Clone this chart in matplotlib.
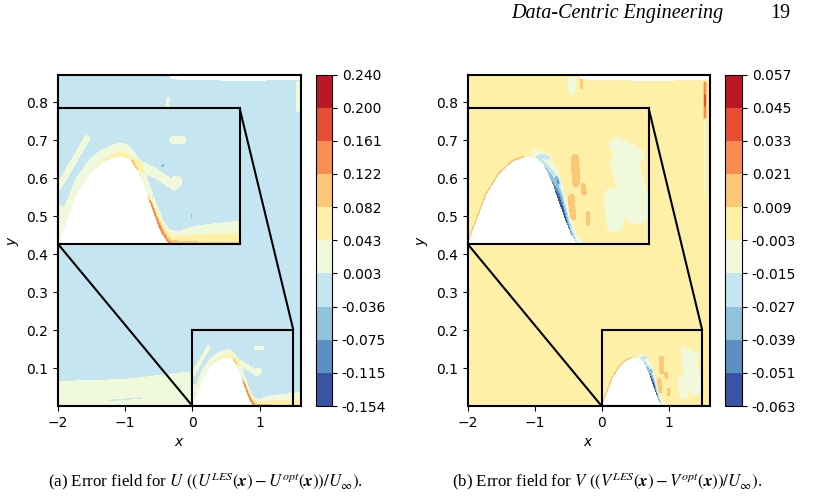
import numpy as np
import matplotlib.pyplot as plt
from mpl_toolkits.axes_grid1.inset_locator import mark_inset

# contour levels, as printed on the two colour bars
u_levels = [-0.154, -0.115, -0.075, -0.036, 0.003, 0.043, 0.082, 0.122, 0.161, 0.200, 0.240]
v_levels = [-0.063, -0.051, -0.039, -0.027, -0.015, -0.003, 0.009, 0.021, 0.033, 0.045, 0.057]

# hill profile (white, no data) and top edge of the data region
hill_x = [0.0, 0.04, 0.08, 0.15, 0.26, 0.37, 0.45, 0.52, 0.58, 0.62, 0.66, 0.70, 0.74, 0.78, 0.82, 0.86, 0.90, 0.93]
hill_y = [0.0, 0.020, 0.038, 0.072, 0.103, 0.121, 0.127, 0.129, 0.126, 0.119, 0.108, 0.092, 0.072, 0.052, 0.032, 0.015, 0.004, 0.0]
top_x = [-2.0, -0.45, -0.33, -0.2, 0.3, 0.8, 1.2, 1.62]
top_y = [0.90, 0.90, 0.862, 0.858, 0.857, 0.856, 0.857, 0.857]

# U error: background and layers hugging the wall (increment, thickness at stations)
u_background = -0.017
u_wall_x = [-2.0, -1.0, -0.3, -0.05, 0.05, 0.2, 0.3, 0.4, 0.55, 0.62,
            0.7, 0.74, 0.78, 0.85, 0.92, 1.0, 1.1, 1.3, 1.62]
u_wall_inc = [0.035, 0.045, 0.040, 0.040]
u_wall_thick = [
    [0.065, 0.070, 0.085, 0.090, 0.028, 0.022, 0.020, 0.018, 0.020, 0.018,
     0.020, 0.022, 0.024, 0.022, 0.020, 0.018, 0.025, 0.030, 0.036],
    [0.0, 0.0, 0.0, 0.0, 0.0, 0.0, 0.0, 0.003, 0.008, 0.004,
     0.0, 0.0, 0.008, 0.014, 0.014, 0.011, 0.013, 0.015, 0.017],
    [0.0, 0.0, 0.0, 0.0, 0.0, 0.0, 0.0, 0.0, 0.0, 0.0,
     0.0, 0.0, 0.006, 0.009, 0.006, 0.004, 0.003, 0.002, 0.002],
    [0.0, 0.0, 0.0, 0.0, 0.0, 0.0, 0.0, 0.0, 0.0, 0.0,
     0.0, 0.0, 0.003, 0.005, 0.002, 0.0, 0.0, 0.0, 0.0],
]
# U error: streaks and spots (x0, y0, x1, y1, half width, value)
u_spots = [
    (0.0, 0.082, 0.24, 0.155, 0.004, 0.035),
    (0.64, 0.118, 0.80, 0.104, 0.007, 0.035),
    (0.80, 0.104, 0.96, 0.086, 0.006, 0.035),
    (0.98, 0.092, 0.98, 0.092, 0.008, 0.035),
    (0.95, 0.153, 1.03, 0.153, 0.005, 0.035),
    (-0.38, 0.785, -0.36, 0.81, 0.003, 0.035),
    (1.57, 0.78, 1.57, 0.85, 0.004, 0.035),
    (0.86, 0.115, 0.87, 0.115, 0.003, -0.035),
    (0.78, 0.070, 0.78, 0.070, 0.0015, -0.035),
    (1.10, 0.036, 1.10, 0.044, 0.0015, -0.035),
    (-1.22, 0.015, -0.77, 0.021, 0.003, -0.035),
]

# V error
v_background = 0.003
v_wall_x = [0.0, 0.40, 0.50, 0.55, 0.62, 0.68, 0.72, 0.76, 0.80, 0.84, 0.88, 0.92, 1.0]
v_wall_inc = [0.014, -0.010, -0.012, -0.012, -0.012, -0.015]
v_wall_thick = [
    [0.0015, 0.0015, 0.0, 0.0, 0.0, 0.0, 0.0, 0.0, 0.0, 0.0, 0.0, 0.0, 0.0],
    [0.0, 0.0, 0.0, 0.0, 0.015, 0.030, 0.038, 0.045, 0.040, 0.030, 0.020, 0.010, 0.0],
    [0.0, 0.0, 0.0, 0.0, 0.005, 0.015, 0.025, 0.032, 0.030, 0.020, 0.010, 0.0, 0.0],
    [0.0, 0.0, 0.0, 0.0, 0.0, 0.007, 0.015, 0.025, 0.022, 0.012, 0.004, 0.0, 0.0],
    [0.0, 0.0, 0.0, 0.0, 0.0, 0.0, 0.007, 0.017, 0.015, 0.007, 0.0, 0.0, 0.0],
    [0.0, 0.0, 0.0, 0.0, 0.0, 0.0, 0.002, 0.010, 0.010, 0.002, 0.0, 0.0, 0.0],
]
v_spots = [
    (1.24, 0.145, 1.40, 0.130, 0.013, -0.010),
    (1.30, 0.120, 1.40, 0.050, 0.022, -0.010),
    (1.20, 0.070, 1.22, 0.030, 0.014, -0.010),
    (0.55, 0.135, 0.66, 0.128, 0.006, -0.010),
    (0.74, 0.098, 0.76, 0.090, 0.003, -0.022),
    (-0.45, 0.830, -0.43, 0.870, 0.012, -0.010),
    (1.54, 0.560, 1.54, 0.750, 0.004, -0.010),
    (0.89, 0.126, 0.90, 0.090, 0.005, 0.016),
    (0.86, 0.068, 0.87, 0.040, 0.004, 0.016),
    (0.96, 0.085, 0.965, 0.075, 0.003, 0.016),
    (1.00, 0.045, 1.00, 0.030, 0.002, 0.016),
    (-0.30, 0.840, -0.30, 0.870, 0.003, 0.016),
    (1.54, 0.760, 1.54, 0.850, 0.003, 0.020),
    (1.54, 0.790, 1.54, 0.820, 0.0015, 0.035),
]

xg = np.linspace(-2.0, 1.62, 1000)
yg = np.linspace(0.0, 0.873, 700)
X, Y = np.meshgrid(xg, yg)
D = Y - np.interp(X, hill_x, hill_y, left=0, right=0)
mask = (D < 0) | (Y > np.interp(X, top_x, top_y))
S = 0.1774  # x units -> y units as drawn


def smooth(t, d, w=0.0012):
    return 0.5 * (1 + np.tanh((t - d) / w))


def build(background, wall_x, incs, thicks, spots):
    z = np.full(X.shape, background)
    for inc, th in zip(incs, thicks):
        t = np.interp(X, wall_x, th)
        z += inc * smooth(t, D) * (t > 0)
    pos = np.zeros(X.shape)
    neg = np.zeros(X.shape)
    for x0, y0, x1, y1, hw, val in spots:
        px, py = X * S - x0 * S, Y - y0
        vx, vy = (x1 - x0) * S, y1 - y0
        L = vx * vx + vy * vy
        u = np.clip((px * vx + py * vy) / L, 0, 1) if L > 0 else 0.0
        dist = np.hypot(px - u * vx, py - u * vy)
        c = val * smooth(hw, dist)
        pos = np.maximum(pos, c)
        neg = np.minimum(neg, c)
    z += pos + neg
    return np.ma.masked_where(mask, z)


U = build(u_background, u_wall_x, u_wall_inc, u_wall_thick, u_spots)
V = build(v_background, v_wall_x, v_wall_inc, v_wall_thick, v_spots)

fig = plt.figure(figsize=(8.16, 4.97), dpi=100)
panels = [
    (U, u_levels, [0.071, 0.183, 0.298, 0.667], [0.3873, 0.183, 0.0196, 0.667]),
    (V, v_levels, [0.573, 0.183, 0.297, 0.667], [0.8885, 0.183, 0.0208, 0.667]),
]
for Z, levels, pos_ax, pos_cb in panels:
    ax = fig.add_axes(pos_ax)
    cf = ax.contourf(X, Y, Z, levels=levels, cmap='RdYlBu_r')
    ax.set_xlim(-2, 1.615)
    ax.set_ylim(0, 0.873)
    ax.set_xticks([-2, -1, 0, 1])
    ax.set_yticks([0.1, 0.2, 0.3, 0.4, 0.5, 0.6, 0.7, 0.8])
    ax.tick_params(labelsize=10)
    ax.set_xlabel('$x$', fontsize=10)
    ax.set_ylabel('$y$', fontsize=10)
    for s in ax.spines.values():
        s.set_linewidth(1.5)

    axins = ax.inset_axes([-2, 0.427, 2.7, 0.358], transform=ax.transData)
    axins.contourf(X, Y, Z, levels=levels, cmap='RdYlBu_r')
    axins.set_xlim(0, 1.5)
    axins.set_ylim(0, 0.2)
    axins.set_xticks([])
    axins.set_yticks([])
    for s in axins.spines.values():
        s.set_linewidth(1.5)
    mark_inset(ax, axins, loc1=1, loc2=3, fc='none', ec='k', lw=1.5)

    cax = fig.add_axes(pos_cb)
    cb = fig.colorbar(cf, cax=cax, ticks=levels, format='%.3f')
    cb.ax.tick_params(labelsize=10)

serif = 'Liberation Serif'
fig.text(0.627, 0.972, 'Data-Centric Engineering', family=serif, style='italic',
         fontsize=14.5, va='center')
fig.text(0.944, 0.972, '19', family=serif, fontsize=14.5, va='center')
fig.text(0.252, 0.030,
         r'(a) Error field for $U$ $((U^{LES}(\boldsymbol{x}) - U^{opt}(\boldsymbol{x}))/U_{\infty})$.',
         family=serif, math_fontfamily='stix', fontsize=12.2, ha='center', va='center')
fig.text(0.744, 0.030,
         r'(b) Error field for $V$ $((V^{LES}(\boldsymbol{x}) - V^{opt}(\boldsymbol{x}))/U_{\infty})$.',
         family=serif, math_fontfamily='stix', fontsize=12.2, ha='center', va='center')

fig.savefig('out.png', dpi=100)
